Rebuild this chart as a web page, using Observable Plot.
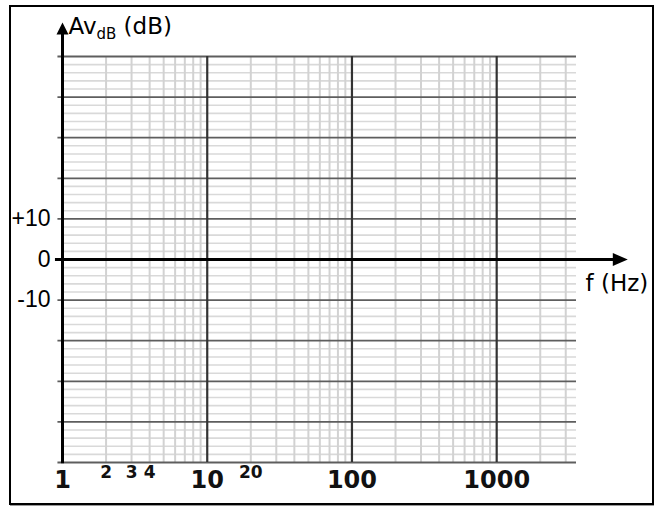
<!DOCTYPE html>
<html>
<head>
<meta charset="utf-8">
<script src="https://cdn.jsdelivr.net/npm/d3@7"></script>
<script src="https://cdn.jsdelivr.net/npm/@observablehq/plot@0.6"></script>
<style>
  html, body { margin: 0; padding: 0; background: #fff; }
  #wrap { position: relative; width: 654px; height: 506px; }
  #frame { position: absolute; left: 9px; top: 5px; width: 645px; height: 500px;
           box-sizing: border-box; border: 2px solid #000; pointer-events: none;
           box-shadow: 1px 1px 0 #999; }
</style>
</head>
<body>
<div id="wrap"><div id="frame"></div></div>
<script>
// ---- data (grid values and labels) ----
const decadeFreqs = [1, 10, 100, 1000];
const minorFreqs = [2, 3, 4, 5, 6, 7, 8, 9,
                    20, 30, 40, 50, 60, 70, 80, 90,
                    200, 300, 400, 500, 600, 700, 800, 900,
                    2000, 3000];
const majorGains = [-50, -40, -30, -20, -10, 10, 20, 30, 40, 50];
const minorGains = [-48, -46, -44, -42, -38, -36, -34, -32, -28, -26, -24, -22,
                    -18, -16, -14, -12, -8, -6, -4, -2, 2, 4, 6, 8,
                    12, 14, 16, 18, 22, 24, 26, 28, 32, 34, 36, 38, 42, 44, 46, 48];
const xBigLabels = ["1", "10", "100", "1000"];
const xBigLabelFreqs = [1, 10, 100, 1000];
const xSmallLabels = ["2", "3", "4", "20"];
const xSmallLabelFreqs = [2, 3, 4, 20];
const yLabels = ["+10", "0", "-10"];
const yLabelGains = [10, 0, -10];

// ---- extents of the paper ----
const fMin = 1, fMax = 3560;
const gMin = -50, gMax = 50;
const yAxisTop = 56;      // gain value where the vertical axis line ends (under the head)
const yArrowTip = 58.4;   // gain value of the arrow tip
const xAxisStart = 0.894; // frequency where the 0 dB line starts
const xAxisEnd = 6700;    // frequency where the 0 dB line ends (under the head)
const xArrowTip = 8050;   // frequency of the arrow tip

const upHead = { draw(ctx) { ctx.moveTo(0, 0); ctx.lineTo(6, 12); ctx.lineTo(-6, 12); ctx.closePath(); } };
const rightHead = { draw(ctx) { ctx.moveTo(0, 0); ctx.lineTo(-15, 6.5); ctx.lineTo(-15, -6.5); ctx.closePath(); } };

const chart = Plot.plot({
  width: 654,
  height: 506,
  marginLeft: 62,
  marginRight: 78,
  marginTop: 56,
  marginBottom: 44,
  x: { type: "log", domain: [fMin, fMax], axis: null },
  y: { domain: [gMin, gMax], axis: null },
  style: { background: "transparent", overflow: "visible", fontFamily: "DejaVu Sans" },
  marks: [
    Plot.ruleY(minorGains, { y: d => d, x1: fMin, x2: fMax, stroke: "#d9d9d9", strokeWidth: 1.6 }),
    Plot.ruleX(minorFreqs, { x: d => d, y1: gMin, y2: gMax, stroke: "#d2d2d2", strokeWidth: 2 }),
    Plot.ruleY(majorGains, { y: d => d, x1: 0.93, x2: fMax, stroke: "#5e5e5e", strokeWidth: 1.8 }),
    Plot.ruleX(decadeFreqs.slice(1), { x: d => d, y1: gMin, y2: gMax, stroke: "#333", strokeWidth: 2.2 }),
    // axes
    Plot.ruleY([0], { y: d => d, x1: xAxisStart, x2: xAxisEnd, stroke: "#000", strokeWidth: 3 }),
    Plot.ruleX([1], { x: d => d, y1: gMin - 0.3, y2: yAxisTop, stroke: "#000", strokeWidth: 3 }),
    Plot.dot([{ x: 1, y: yArrowTip }], { x: "x", y: "y", symbol: upHead, fill: "#000", stroke: "none", r: 6 }),
    Plot.dot([{ x: xArrowTip, y: 0 }], { x: "x", y: "y", symbol: rightHead, fill: "#000", stroke: "none", r: 6 }),
    // labels
    Plot.text(xBigLabels, { x: (d, i) => xBigLabelFreqs[i], y: gMin, text: d => d, dy: 25, lineAnchor: "bottom",
      textAnchor: "middle", fontFamily: "DejaVu Sans", fontWeight: "bold", fontSize: 24, fill: "#111" }),
    Plot.text(xSmallLabels, { x: (d, i) => xSmallLabelFreqs[i], y: gMin, text: d => d, dy: 15, lineAnchor: "bottom",
      textAnchor: "middle", fontFamily: "DejaVu Sans", fontWeight: "bold", fontSize: 17, fill: "#111" }),
    Plot.text(yLabels, { x: fMin, y: (d, i) => yLabelGains[i], text: d => d, dx: -12, textAnchor: "end",
      lineAnchor: "middle", fontFamily: "Liberation Sans", fontSize: 23, fill: "#000" }),
    Plot.text(["AvdB (dB)"], { x: fMin, y: gMax, text: d => d, dx: 6, dy: -23, textAnchor: "start",
      lineAnchor: "bottom", fontFamily: "DejaVu Sans", fontSize: 23, fill: "#000" }),
    Plot.text(["f (Hz)"], { x: fMax, y: 0, text: d => d, dx: 9, dy: 31, textAnchor: "start",
      lineAnchor: "bottom", fontFamily: "DejaVu Sans", fontSize: 23, fill: "#000" })
  ]
});

// subscript for the y-axis title
d3.select(chart).selectAll("text").filter(function () { return this.textContent === "AvdB (dB)"; })
  .each(function () {
    const t = d3.select(this);
    t.text(null);
    t.append("tspan").text("Av");
    t.append("tspan").attr("font-size", 15).attr("dy", 5).text("dB");
    t.append("tspan").attr("dy", -5).text(" (dB)");
  });

chart.style.position = "absolute";
chart.style.left = "0px";
chart.style.top = "0px";
document.getElementById("wrap").insertBefore(chart, document.getElementById("frame"));
</script>
</body>
</html>
